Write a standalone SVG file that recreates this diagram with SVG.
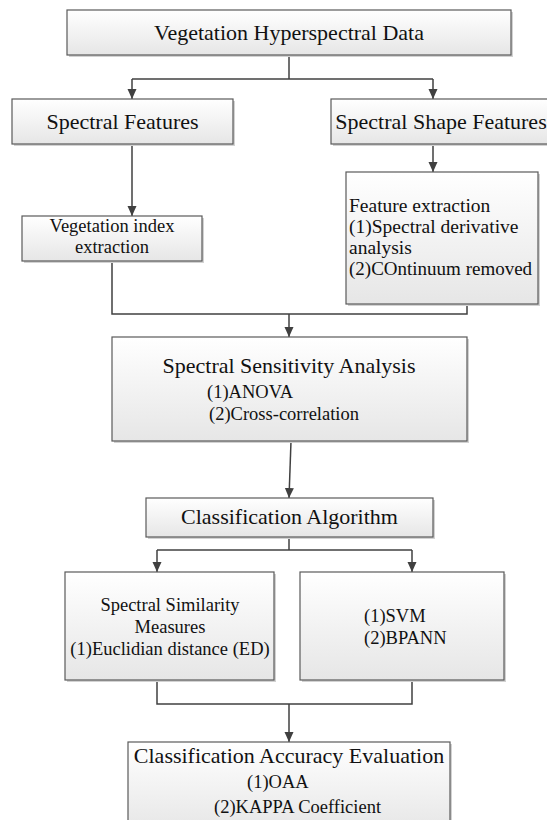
<svg xmlns="http://www.w3.org/2000/svg" width="547" height="820" viewBox="0 0 547 820">
<defs>
<linearGradient id="g" x1="0" y1="0" x2="0" y2="1">
<stop offset="0" stop-color="#ffffff"/>
<stop offset="1" stop-color="#e6e6e6"/>
</linearGradient>
<marker id="ah" markerWidth="10" markerHeight="10" refX="10" refY="5" orient="auto" markerUnits="userSpaceOnUse">
<path d="M0,0.5 L10,5 L0,9.5 Z" fill="#404040"/>
</marker>
<style>
.sh{fill:#d2d2d2;}
.bx{fill:url(#g);stroke:#5a5a5a;stroke-width:1.2;}
.t{font-family:"Liberation Serif","Times New Roman",serif;fill:#111;}
.h{font-size:22px;text-anchor:middle;}
.s{font-size:18.5px;}
.c{text-anchor:middle;}
.ln{fill:none;stroke:#404040;stroke-width:1.5;}
</style>
</defs>
<rect width="547" height="820" fill="#fff"/>
<g id="connectors">
<path class="ln" d="M289,55 V79"/>
<path class="ln" d="M132,79 H433"/>
<path class="ln" d="M132,79 V99" marker-end="url(#ah)"/>
<path class="ln" d="M433,79 V99" marker-end="url(#ah)"/>
<path class="ln" d="M132,144 V216" marker-end="url(#ah)"/>
<path class="ln" d="M433,144 V172" marker-end="url(#ah)"/>
<path class="ln" d="M112,261 V314 H467 V304"/>
<path class="ln" d="M289,314 V337" marker-end="url(#ah)"/>
<path class="ln" d="M291,441 L289,498" marker-end="url(#ah)"/>
<path class="ln" d="M289,537 V550"/>
<path class="ln" d="M157,550 H412"/>
<path class="ln" d="M157,550 V572" marker-end="url(#ah)"/>
<path class="ln" d="M412,550 V572" marker-end="url(#ah)"/>
<path class="ln" d="M157,680 V704 H412 V680"/>
<path class="ln" d="M289,704 V742" marker-end="url(#ah)"/>
</g>
<g id="n-data">
<rect class="sh" x="69" y="12" width="444" height="45"/>
<rect class="bx" x="67" y="10" width="444" height="45"/>
<text class="t h" x="289" y="40">Vegetation Hyperspectral Data</text>
</g>
<g id="n-spectral">
<rect class="sh" x="14" y="101" width="221" height="45"/>
<rect class="bx" x="12" y="99" width="221" height="45"/>
<text class="t h" x="122.5" y="129">Spectral Features</text>
</g>
<g id="n-shape">
<rect class="sh" x="333" y="101" width="222" height="45"/>
<rect class="bx" x="331" y="99" width="222" height="45"/>
<text class="t h" x="441" y="129">Spectral Shape Features</text>
</g>
<g id="n-vi">
<rect class="sh" x="24" y="218" width="180" height="45"/>
<rect class="bx" x="22" y="216" width="180" height="45"/>
<text class="t s c" x="112" y="232">Vegetation index</text>
<text class="t s c" x="112" y="253">extraction</text>
</g>
<g id="n-fe">
<rect class="sh" x="348" y="174" width="192" height="132"/>
<rect class="bx" x="346" y="172" width="192" height="132"/>
<text class="t" x="349" y="212" font-size="19.5">Feature extraction</text>
<text class="t" x="349" y="233" font-size="19.5">(1)Spectral derivative</text>
<text class="t" x="349" y="254" font-size="19.5">analysis</text>
<text class="t" x="349" y="275" font-size="19">(2)COntinuum removed</text>
</g>
<g id="n-ssa">
<rect class="sh" x="114" y="339" width="355" height="104"/>
<rect class="bx" x="112" y="337" width="355" height="104"/>
<text class="t h" x="289" y="373">Spectral Sensitivity Analysis</text>
<text class="t s" x="207" y="398">(1)ANOVA</text>
<text class="t s" x="209" y="420">(2)Cross-correlation</text>
</g>
<g id="n-ca">
<rect class="sh" x="148" y="500" width="287" height="39"/>
<rect class="bx" x="146" y="498" width="287" height="39"/>
<text class="t h" x="289.5" y="524">Classification Algorithm</text>
</g>
<g id="n-ssm">
<rect class="sh" x="67" y="574" width="209" height="108"/>
<rect class="bx" x="65" y="572" width="209" height="108"/>
<text class="t s c" x="170" y="611">Spectral Similarity</text>
<text class="t s c" x="170" y="633">Measures</text>
<text class="t s c" x="170" y="655">(1)Euclidian distance (ED)</text>
</g>
<g id="n-svm">
<rect class="sh" x="302" y="574" width="204" height="108"/>
<rect class="bx" x="300" y="572" width="204" height="108"/>
<text class="t s" x="364" y="622">(1)SVM</text>
<text class="t s" x="364" y="644">(2)BPANN</text>
</g>
<g id="n-cae">
<rect class="sh" x="130" y="744" width="322" height="90"/>
<rect class="bx" x="128" y="742" width="322" height="90"/>
<text class="t h" x="289" y="763">Classification Accuracy Evaluation</text>
<text class="t s" x="247" y="788">(1)OAA</text>
<text class="t s" x="214" y="813">(2)KAPPA Coefficient</text>
</g>
</svg>
